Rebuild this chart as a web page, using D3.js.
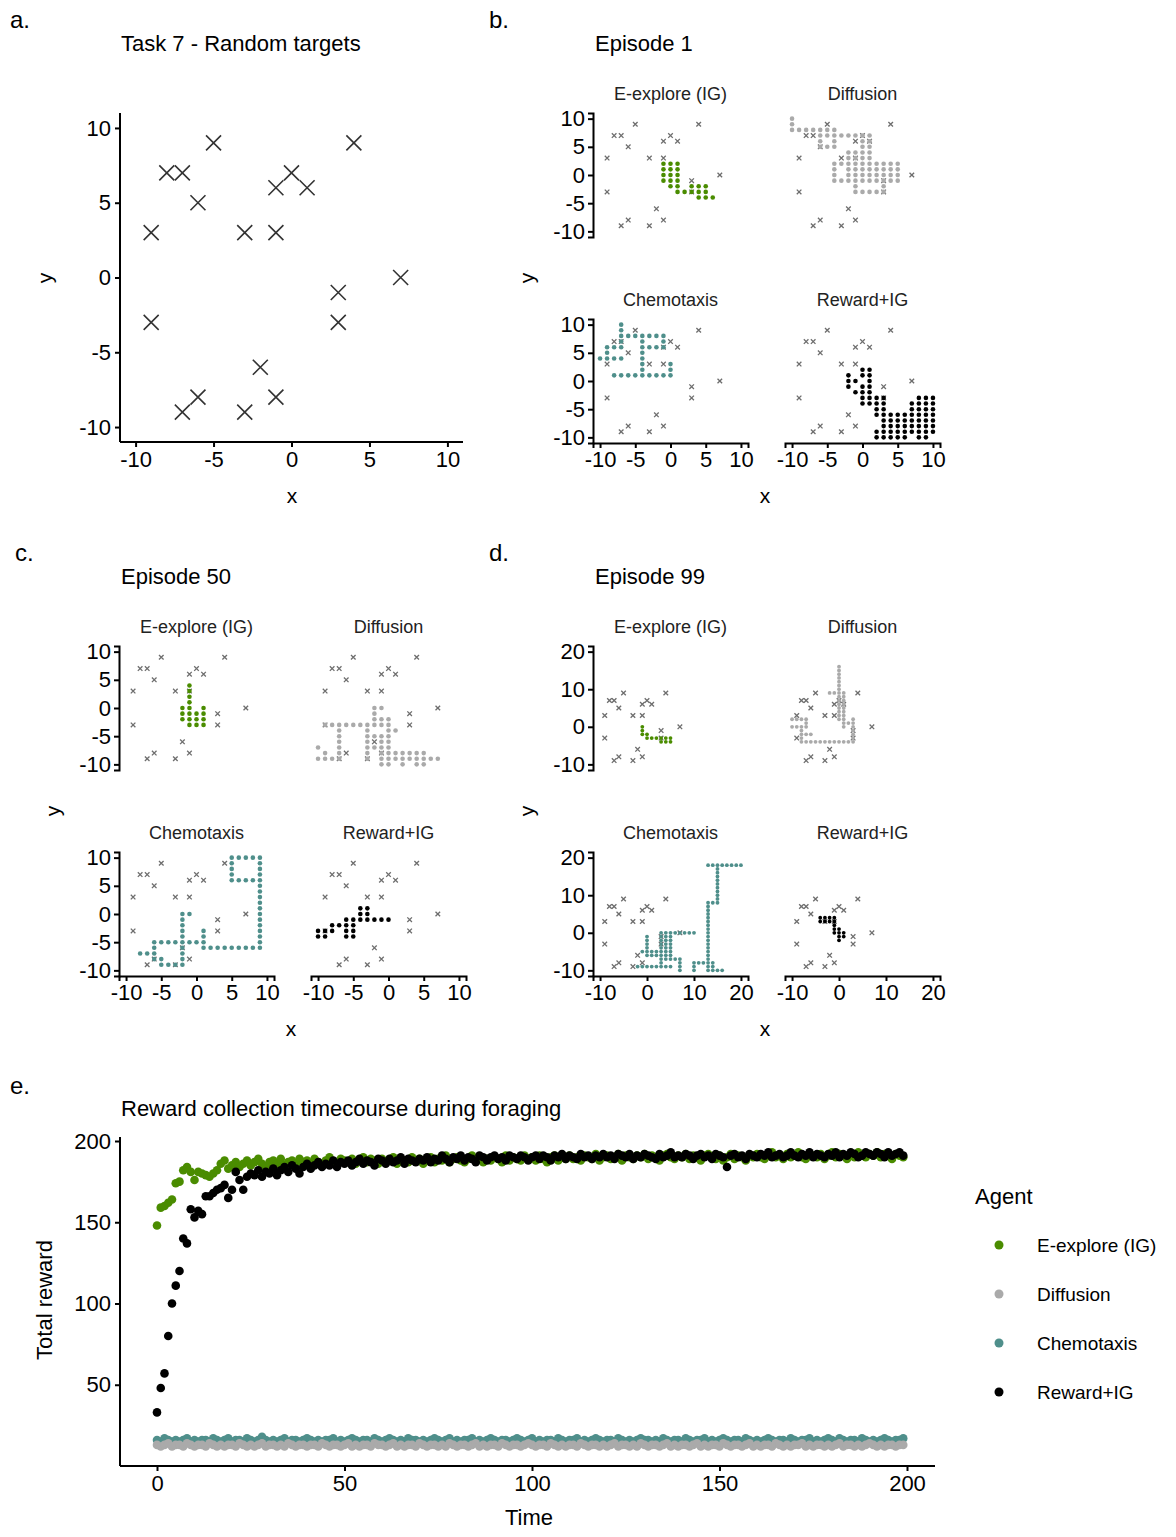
<!DOCTYPE html>
<html><head><meta charset="utf-8">
<script src="https://cdn.jsdelivr.net/npm/d3@7"></script>
<style>body{margin:0;background:#fff}text{font-family:"Liberation Sans",Arial,sans-serif}</style>
</head><body><svg id="c" width="1176" height="1537"></svg>
<script>
// ---------- data ----------
const targetsX = [-9,-9,-8,-7,-6,-5,-3,-1,-1,0,1,4,3,3,7,-2,-1,-3,-6,-7];
const targetsY = [3,-3,7,7,5,9,3,3,6,7,6,9,-1,-3,0,-6,-8,-9,-8,-9];
const agents = ["E-explore (IG)","Diffusion","Chemotaxis","Reward+IG"];
const agentColors = ["#4a8c00","#aaaaaa","#4f8f8b","#000000"];

// paths: rows "y:x,x,x"
const ep1 = [
 ["2:-1,0,1","1:-1,0,1","0:-1,0,1","-1:-1,0,1","-2:0,1,3,4,5","-3:1,2,3,4,5","-4:4,5,6"],
 ["10:-10","9:-10","8:-10,-9,-8,-7,-6,-5,-4","7:-6,-5,-4,-3,-2,-1,0,1","6:-6,-4,0,1","5:-6,-5,-4,0,1","4:-2,-1,0,1","3:-2,-1,0,1","2:-4,-3,-2,-1,0,1,2,3,4,5","1:-4,-2,-1,0,1,2,3,4,5","0:-4,-2,-1,0,1,2,3,4,5","-1:-4,-3,-2,-1,0,1,2,3,4,5","-2:-1,3","-3:-1,0,1,2,3"],
 ["10:-7","9:-7","8:-7,-6,-5,-4,-3,-2,-1","7:-7,-4,-1","6:-9,-8,-7,-4,-3,-2,-1","5:-9,-4","4:-10,-9,-8,-7,-4","3:-4,0","2:-4,0","1:-8,-7,-6,-5,-4,-3,-2,-1,0"],
 ["2:0,1","1:-2,0,1","0:-2,-1,1","-1:-2,0,1","-2:-1,0,1","-3:0,1,2,3,8,9,10","-4:0,1,2,3,7,8,9,10","-5:2,3,7,8,9,10","-6:2,3,4,5,6,7,8,9,10","-7:3,4,5,6,7,8,9,10","-8:3,4,5,6,7,8,9,10","-9:2,3,4,5,6,7,8,9,10","-10:2,3,4,5,6,8,9"]
];
const ep50 = [
 ["4:-1","3:-1","2:-1","1:-1","0:-2,-1,1","-1:-2,-1,0,1","-2:-2,-1,0,1","-3:-1,0,1"],
 ["0:-2,-1","-1:-2","-2:-2,-1,0","-3:-9,-8,-7,-6,-5,-4,-3,-2,-1,0","-4:-7,-3,0,1","-5:-7,-3,-2,-1,0","-6:-7,-3,-1,0","-7:-10,-7,-3,-2,-1,0","-8:-9,-7,-3,-1,0,1,2,3,4,5","-9:-10,-9,-8,-7,-3,-1,0,1,2,3,4,5,6,7","-10:-1,0,2,4,5"],
 ["10:5,6,7,8,9","9:5,9","8:5,9","7:5,9","6:5,6,7,8,9","5:9","4:9","3:9","2:9","1:9","0:-2,-1,9","-1:-2,9","-2:-2,9","-3:-2,1,9","-4:-2,1,9","-5:-6,-5,-4,-3,-2,-1,0,1,9","-6:-6,-2,1,2,3,4,5,6,7,8,9","-7:-8,-7,-6,-2","-8:-6,-5,-2","-9:-5,-4,-3,-2"],
 ["1:-4,-3","0:-4,-3","-1:-6,-5,-4,-3,-2,-1,0","-2:-8,-7,-6,-5","-3:-10,-9,-8,-6,-5","-4:-10,-9,-6,-5"]
];
const ep99 = [
 ["0:-1","-1:-1","-2:-1,0","-3:0,1,2,3,4,5","-4:3,4,5"],
 ["16:0","15:0","14:0","13:0","12:0","11:0","10:0","9:-2,-1,0,1","8:0,1","7:0,1","6:0,1","5:0,1","4:0,1","3:0,1","2:-10,-9,-8,-7,0,1,3","1:-7,1,2,3","0:-10,-9,-8,-7,1,3","-1:-8,3","-2:-8,-7,-6,3","-3:-8,3","-4:-8,-7,-6,-5,-4,-3,-2,-1,0,1,2,3"],
 ["18:13,14,15,16,17,18,19,20","17:15","16:15","15:15","14:15","13:15","12:15","11:15","10:15","9:15","8:13,14,15","7:13","6:13","5:13","4:13","3:13","2:13","1:13","0:3,4,5,6,7,8,9,10,13","-1:0,3,4,5,13","-2:0,3,4,5,13","-3:0,3,4,5,13","-4:0,3,4,5,13","-5:-1,0,1,2,3,4,5,13","-6:0,1,2,3,4,5,13","-7:3,4,5,6,7,13","-8:3,7,10,11,12,13,14","-9:-2,-1,0,1,2,3,4,5,7,10,13,14","-10:7,10,13,14,15,16"],
 ["4:-4,-3,-2,-1","3:-4,-3,-2,-1","2:-1","1:-1,0","0:-1,0,1","-1:0,1","-2:0"]
];

const rewardGreen = [148,159,160,162,164,174,175,182,184,181,176,181,180,179,178,180,182,186,188,183,185,187,184,186,188,185,187,189,186,184,187,188,186,189,185,187,188,186,189,187,188,186,189,187,185,188,190,187,186,189,188,187,189,186,188,190,187,189,188,186,189,187,188,190,186,189,188,187,190,188,189,186,188,190,187,189,188,191,187,189,190,188,187,189,191,188,190,187,189,188,190,189,187,191,188,190,189,188,191,189,190,188,191,189,187,190,191,188,190,189,191,189,190,188,191,190,189,192,188,190,191,189,190,192,188,191,190,189,191,190,192,189,191,190,188,191,192,190,189,191,190,192,189,191,190,188,191,192,190,189,191,188,190,192,189,191,190,188,191,190,192,190,189,191,193,190,191,189,192,190,191,193,190,189,192,191,190,192,189,191,193,190,192,191,189,192,190,193,191,190,192,191,193,190,192,191,189,192,191,190];
const rewardBlack = [33,48,57,80,100,111,120,140,137,158,153,157,155,166,166,168,170,171,173,165,170,181,176,170,178,180,179,182,178,181,180,183,179,182,184,181,185,183,180,184,186,183,185,187,184,186,185,188,184,187,186,188,185,187,189,186,188,187,185,189,188,186,189,187,188,190,186,189,188,187,189,188,190,187,189,188,191,189,187,190,189,191,188,190,189,187,191,190,188,190,191,189,190,188,191,190,189,191,190,188,190,191,189,191,190,188,191,190,192,189,191,190,189,192,190,191,189,191,190,192,190,191,189,192,191,190,192,189,191,190,192,191,190,189,192,190,191,193,190,191,190,192,191,189,191,192,190,191,189,192,191,190,184,191,192,190,191,189,192,191,190,192,191,193,190,191,192,190,191,193,191,190,192,191,193,190,192,191,190,192,191,193,190,192,191,193,192,190,191,193,192,191,193,192,190,193,191,192,193,191];
const rewardBlue = [16,15,17,16,15,16,15,16,17,15,16,15,16,16,15,17,16,15,16,17,15,16,16,15,17,16,15,16,18,16,15,16,15,16,17,15,16,16,15,16,17,16,15,16,15,16,16,17,15,16,15,16,17,16,15,16,16,15,17,16,15,16,17,16,15,16,15,17,16,16,15,16,15,16,17,16,15,16,17,15,16,15,16,16,17,15,16,15,16,17,16,15,16,16,15,16,17,16,15,16,17,15,16,15,16,16,15,17,16,15,16,16,17,15,16,15,16,17,16,15,16,16,15,17,16,15,16,15,16,17,16,16,15,16,15,17,16,15,16,16,15,17,16,15,16,16,17,15,16,15,16,17,16,15,16,16,15,17,16,15,16,15,16,17,16,15,16,16,15,17,16,15,16,16,17,15,16,15,16,17,16,15,17,16,15,16,16,15,17,16,15,16,15,16,17,16,15,16,16,17];
const rewardGray = [13,12,13,14,12,13,13,12,14,13,12,13,13,12,14,13,12,13,12,13,13,12,14,13,12,13,12,13,14,12,13,13,12,13,12,14,13,12,13,13,12,13,13,12,14,13,12,13,13,12,13,14,12,13,12,13,13,12,14,13,13,12,13,14,12,13,12,13,13,12,14,13,12,13,13,12,13,12,14,13,12,13,13,12,13,14,12,13,12,13,13,12,14,13,12,13,13,12,13,14,13,12,13,13,12,14,13,12,13,12,13,13,12,14,13,12,13,13,12,13,12,13,14,12,13,13,12,13,12,14,13,12,13,13,12,13,14,12,13,12,13,13,12,13,14,12,13,12,13,13,12,14,13,12,13,13,12,13,14,12,13,12,13,13,12,14,13,12,13,12,13,13,14,12,13,12,13,13,12,13,12,13,14,12,13,13,12,13,12,13,14,13,12,13,12,13,13,12,13,13];

// ---------- drawing ----------
const svg = d3.select("#c");
const parseRows = rows => rows.flatMap(r => { const [y, xs] = r.split(":"); return xs.split(",").map(x => ({x:+x, y:+y})); });
const targets = targetsX.map((x,i)=>({x, y:targetsY[i]}));
const fmt = d => String(d);
function txt(x,y,s,size,anchor="start",fill="#000"){ return svg.append("text").attr("x",x).attr("y",y).attr("font-size",size).attr("text-anchor",anchor).attr("fill",fill).text(s); }
function cross(g, x, y, s, stroke, w, op){ g.append("path").attr("d",`M${x-s},${y-s}L${x+s},${y+s}M${x-s},${y+s}L${x+s},${y-s}`).attr("stroke",stroke).attr("stroke-width",w).attr("opacity",op); }

function axisStyle(g, fs){
  g.selectAll(".domain").attr("stroke","#000").attr("stroke-width",2);
  g.selectAll(".tick line").attr("stroke","#000").attr("stroke-width",2);
  g.selectAll(".tick text").attr("font-size",fs).attr("fill","#000").attr("font-family","Liberation Sans, Arial, sans-serif");
}

// Panel a
(function(){
  const x = d3.scaleLinear().domain([-11,11]).range([120,463]);
  const y = d3.scaleLinear().domain([-11,11]).range([442,113]);
  const g = svg.append("g");
  targets.forEach(t=>cross(g,x(t.x),y(t.y),7.5,"#333",1.6,1));
  const ax = svg.append("g").attr("transform","translate(0,442)").call(d3.axisBottom(x).tickValues([-10,-5,0,5,10]).tickSize(5).tickPadding(4).tickFormat(fmt));
  ax.select(".domain").attr("d","M120,0H463");
  axisStyle(ax,22);
  const ay = svg.append("g").attr("transform","translate(120,0)").call(d3.axisLeft(y).tickValues([-10,-5,0,5,10]).tickSize(5).tickPadding(4).tickFormat(fmt));
  ay.select(".domain").attr("d","M0,113V442");
  axisStyle(ay,22);
  txt(10,28,"a.",24); txt(121,51,"Task 7 - Random targets",22);
  txt(292,503,"x",21,"middle");
  svg.append("text").attr("transform","translate(52,278) rotate(-90)").attr("font-size",21).attr("text-anchor","middle").text("y");
})();

function facet(ox, base, label, title, data, dom, ticks, r){
  txt(ox-104, base+28, label, 24);
  txt(ox+2, base+51, title, 22);
  const cols = [[ox, ox+155],[ox+192, ox+347]];
  const rows = [[base+113, base+237],[base+319, base+443]];
  const pad = (dom[1]-dom[0])*0.05;
  data.forEach((rowsData, i)=>{
    const c = i%2, rr = Math.floor(i/2);
    const x = d3.scaleLinear().domain([dom[0]-pad, dom[1]+pad]).range(cols[c]);
    const y = d3.scaleLinear().domain([dom[0]-pad, dom[1]+pad]).range([rows[rr][1], rows[rr][0]]);
    const g = svg.append("g");
    txt((cols[c][0]+cols[c][1])/2, rows[rr][0]-13, agents[i], 18, "middle", "#222");
    targets.forEach(t=>cross(g,x(t.x),y(t.y),2.3,"#555",1.3,0.85));
    g.selectAll("circle").data(parseRows(rowsData)).join("circle")
      .attr("cx",d=>x(d.x)).attr("cy",d=>y(d.y)).attr("r",r).attr("fill",agentColors[i]);
    if (c===0){
      const ay = svg.append("g").attr("transform",`translate(${cols[0][0]},0)`).call(d3.axisLeft(y).tickValues(ticks).tickSize(5).tickPadding(3).tickFormat(fmt));
      axisStyle(ay,22);
    }
    if (rr===1){
      const ax = svg.append("g").attr("transform",`translate(0,${rows[1][1]})`).call(d3.axisBottom(x).tickValues(ticks).tickSize(5).tickPadding(3).tickFormat(fmt));
      axisStyle(ax,22);
    }
  });
  txt(ox+172, base+503, "x", 21, "middle");
  svg.append("text").attr("transform",`translate(${ox-59},${base+278}) rotate(-90)`).attr("font-size",21).attr("text-anchor","middle").text("y");
}
facet(593, 0, "b.", "Episode 1", ep1, [-10,10], [-10,-5,0,5,10], 2.3);
facet(119, 533, "c.", "Episode 50", ep50, [-10,10], [-10,-5,0,5,10], 2.3);
facet(593, 533, "d.", "Episode 99", ep99, [-10,20], [-10,0,10,20], 1.9);

// Panel e
(function(){
  const x = d3.scaleLinear().domain([0,200]).range([157,907]);
  const y = d3.scaleLinear().domain([0,200]).range([1466,1141]);
  txt(10,1094,"e.",24);
  txt(121,1116,"Reward collection timecourse during foraging",22);
  const series = [rewardGreen, rewardBlue, rewardGray, rewardBlack];
  const cols = [agentColors[0], agentColors[2], agentColors[1], agentColors[3]];
  series.forEach((s,k)=>{
    svg.append("g").selectAll("circle").data(s).join("circle")
      .attr("cx",(d,i)=>x(i)).attr("cy",d=>y(d)).attr("r",4.3).attr("fill",cols[k]);
  });
  const ax = svg.append("g").attr("transform","translate(0,1466)").call(d3.axisBottom(x).tickValues([0,50,100,150,200]).tickSize(5).tickPadding(4));
  ax.select(".domain").attr("d","M120,0H935");
  axisStyle(ax,22);
  const ay = svg.append("g").attr("transform","translate(120,0)").call(d3.axisLeft(y).tickValues([50,100,150,200]).tickSize(5).tickPadding(4));
  ay.select(".domain").attr("d","M0,1137V1466");
  axisStyle(ay,22);
  txt(529,1525,"Time",22,"middle");
  svg.append("text").attr("transform","translate(52,1300) rotate(-90)").attr("font-size",22).attr("text-anchor","middle").text("Total reward");
  txt(975,1204,"Agent",22);
  agents.forEach((a,i)=>{
    svg.append("circle").attr("cx",999).attr("cy",1245+i*49).attr("r",4.5).attr("fill",agentColors[i]);
    txt(1037,1252+i*49,a,19);
  });
})();
</script></body></html>
